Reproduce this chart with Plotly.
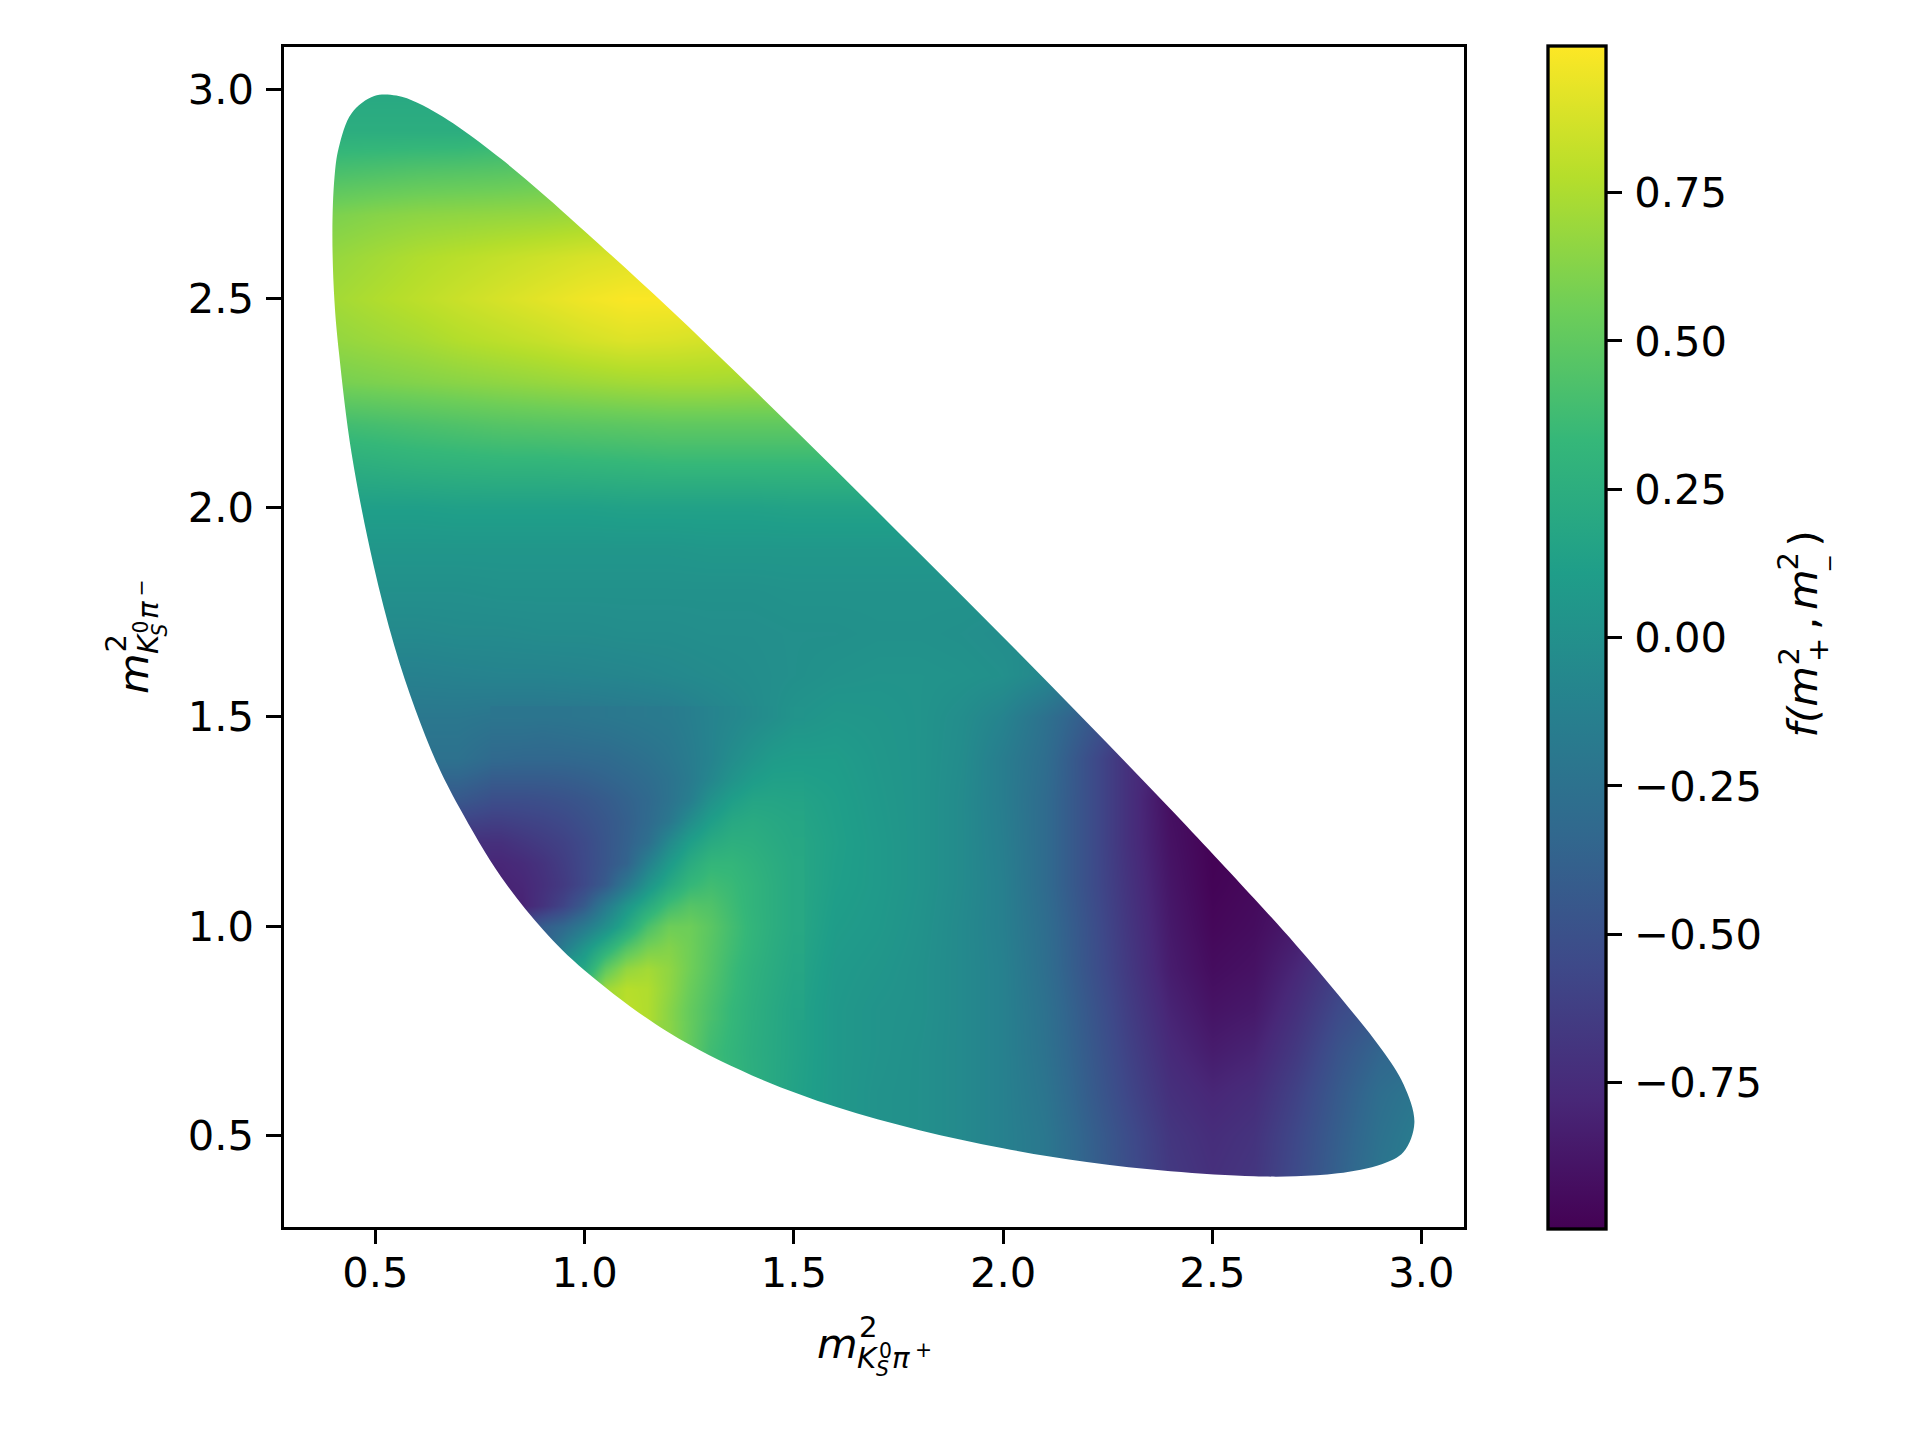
import plotly.graph_objects as go

x_grid = [round(0.4 + 0.1 * i, 1) for i in range(27)]
y_grid = [round(0.4 + 0.1 * i, 1) for i in range(27)]

# values; columns are x_grid, rows are y_grid
z_y04 = [-.8,-.8,-.8,-.8,-.8,-.8,.2,.6,.65,.4,.26,.15,.07,.02,.0,-.05,-.12,-.2,-.36,-.52,-.66,-.72,-.68,-.54,-.38,-.22,-.13]
z_y05 = [-.8,-.8,-.8,-.8,-.8,-.8,.2,.6,.65,.4,.26,.15,.07,.02,.0,-.05,-.12,-.2,-.37,-.53,-.68,-.74,-.7,-.56,-.4,-.25,-.15]
z_y06 = [-.8,-.8,-.8,-.8,-.8,-.8,.2,.6,.65,.4,.26,.15,.07,.02,.0,-.05,-.12,-.22,-.4,-.57,-.72,-.78,-.74,-.6,-.43,-.28,-.2]
z_y07 = [-.8,-.8,-.8,-.8,-.8,-.8,.2,.7,.65,.38,.25,.16,.07,.03,.0,-.05,-.12,-.24,-.42,-.6,-.76,-.84,-.8,-.66,-.48,-.35,-.3]
z_y08 = [-.8,-.8,-.8,-.8,-.8,-.7,.2,.8,.64,.42,.26,.16,.07,.03,.01,-.05,-.12,-.25,-.44,-.63,-.8,-.89,-.86,-.72,-.55,-.45,-.4]
z_y09 = [-.8,-.8,-.8,-.8,-.8,-.4,.2,.67,.66,.46,.28,.18,.08,.05,.01,-.05,-.12,-.27,-.47,-.66,-.84,-.93,-.9,-.78,-.62,-.55,-.5]
z_y10 = [-.8,-.8,-.8,-.8,-.6,-.4,-.17,.2,.55,.48,.31,.2,.1,.07,.02,-.05,-.13,-.28,-.48,-.68,-.86,-.96,-.93,-.85,-.75,-.7,-.7]
z_y11 = [-.8,-.8,-.8,-.8,-.8,-.72,-.55,-.2,.2,.38,.3,.2,.12,.08,.03,-.04,-.13,-.3,-.5,-.7,-.88,-.98,-.95,-.9,-.85,-.8,-.8]
z_y12 = [-.72,-.72,-.72,-.72,-.72,-.64,-.54,-.38,-.05,.22,.25,.19,.13,.08,.03,-.04,-.14,-.3,-.5,-.72,-.9,-.99,-.97,-.95,-.9,-.9,-.9]
z_y13 = [-.45,-.45,-.45,-.45,-.52,-.51,-.46,-.37,-.24,.02,.17,.16,.12,.07,.03,-.04,-.15,-.3,-.5,-.72,-.92,-.98,-.98,-.98,-.98,-.98,-.98]
z_y14 = [-.25,-.25,-.25,-.25,-.32,-.33,-.32,-.28,-.21,-.1,.04,.1,.1,.06,.03,-.03,-.15,-.28,-.5,-.72,-.85,-.9,-.9,-.9,-.9,-.9,-.9]
z_y15 = [-.2,-.2,-.2,-.2,-.22,-.22,-.21,-.19,-.17,-.1,-.04,.03,.06,.05,.03,-.02,-.1,-.25,-.42,-.6,-.7,-.7,-.7,-.7,-.7,-.7,-.7]
z_y16 = [-.12,-.12,-.12,-.11,-.1,-.1,-.09,-.08,-.06,-.04,-.02,.0,.02,.03,.03,.02,.0,-.07,-.2,-.3,-.3,-.3,-.3,-.3,-.3,-.3,-.3]
z_y17 = [-.05,-.05,-.05,-.04,-.04,-.03,-.03,-.02,-.02,-.01,-.01,.0,.0,.01,.01,.0,-.02,-.03,-.03,-.03,-.03,-.03,-.03,-.03,-.03,-.03,-.03]
z_y18 = [.0,.0,.0,.0,.01,.01,.01,.01,.01,.01,.01,.02,.02,.02,.02,.02,.02,.02,.02,.02,.02,.02,.02,.02,.02,.02,.02]
z_y19 = [.05,.05,.05,.05,.05,.05,.05,.05,.05,.06,.06,.06,.06,.06,.06,.06,.06,.06,.06,.06,.06,.06,.06,.06,.06,.06,.06]
z_y20 = [.12,.12,.12,.13,.13,.13,.13,.14,.14,.14,.14,.15,.15,.15,.15,.15,.15,.15,.15,.15,.15,.15,.15,.15,.15,.15,.15]
z_y21 = [.24,.26,.28,.29,.3,.3,.31,.32,.33,.33,.33,.33,.33,.33,.33,.33,.33,.33,.33,.33,.33,.33,.33,.33,.33,.33,.33]
z_y22 = [.38,.4,.42,.44,.46,.47,.48,.49,.5,.5,.5,.5,.5,.5,.5,.5,.5,.5,.5,.5,.5,.5,.5,.5,.5,.5,.5]
z_y23 = [.58,.6,.62,.64,.66,.68,.7,.72,.73,.73,.72,.72,.72,.72,.72,.72,.72,.72,.72,.72,.72,.72,.72,.72,.72,.72,.72]
z_y24 = [.67,.7,.73,.77,.8,.83,.87,.9,.89,.87,.87,.87,.87,.87,.87,.87,.87,.87,.87,.87,.87,.87,.87,.87,.87,.87,.87]
z_y25 = [.72,.76,.8,.84,.88,.92,.96,.99,.99,.99,.99,.99,.99,.99,.99,.99,.99,.99,.99,.99,.99,.99,.99,.99,.99,.99,.99]
z_y26 = [.68,.72,.76,.79,.82,.85,.88,.9,.9,.9,.9,.9,.9,.9,.9,.9,.9,.9,.9,.9,.9,.9,.9,.9,.9,.9,.9]
z_y27 = [.6,.63,.65,.66,.67,.68,.7,.7,.7,.7,.7,.7,.7,.7,.7,.7,.7,.7,.7,.7,.7,.7,.7,.7,.7,.7,.7]
z_y28 = [.42,.44,.46,.47,.48,.5,.5,.5,.5,.5,.5,.5,.5,.5,.5,.5,.5,.5,.5,.5,.5,.5,.5,.5,.5,.5,.5]
z_y29 = [.25,.25,.25,.25,.28,.3,.3,.3,.3,.3,.3,.3,.3,.3,.3,.3,.3,.3,.3,.3,.3,.3,.3,.3,.3,.3,.3]
z_y30 = [.2,.2,.2,.2,.22,.28,.3,.3,.3,.3,.3,.3,.3,.3,.3,.3,.3,.3,.3,.3,.3,.3,.3,.3,.3,.3,.3]
z_rows = [z_y04,z_y05,z_y06,z_y07,z_y08,z_y09,z_y10,z_y11,z_y12,z_y13,z_y14,z_y15,z_y16,z_y17,
          z_y18,z_y19,z_y20,z_y21,z_y22,z_y23,z_y24,z_y25,z_y26,z_y27,z_y28,z_y29,z_y30]

# finer reading around the diagonal band
fine_x = [.8,.85,.9,.95,1.0,1.05,1.1,1.15,1.2,1.25,1.3,1.35,1.4,1.45,1.5]
fine_y = [.8,.85,.9,.95,1.0,1.05,1.1,1.15,1.2,1.25,1.3,1.35,1.4,1.45,1.5]
f_y080 = [.7,.7,.7,.7,.7,.7,.8,.76,.64,.52,.42,.33,.26,.21,.16]
f_y085 = [.4,.4,.4,.4,.4,.7,.78,.76,.66,.54,.44,.35,.27,.22,.17]
f_y090 = [.1,.1,.1,.1,.2,.5,.67,.72,.66,.56,.46,.36,.28,.23,.18]
f_y095 = [-.5,-.5,-.4,-.15,.05,.25,.45,.58,.62,.56,.47,.38,.3,.24,.19]
f_y100 = [-.6,-.5,-.4,-.32,-.17,.0,.2,.42,.55,.55,.48,.39,.31,.25,.2]
f_y105 = [-.8,-.8,-.7,-.58,-.42,-.17,.05,.22,.38,.46,.44,.37,.3,.25,.2]
f_y110 = [-.8,-.78,-.72,-.65,-.55,-.42,-.2,.03,.2,.33,.38,.35,.3,.25,.2]
f_y115 = [-.78,-.75,-.7,-.63,-.55,-.46,-.36,-.12,.08,.23,.32,.32,.28,.24,.2]
f_y120 = [-.72,-.68,-.64,-.6,-.54,-.46,-.38,-.27,-.05,.12,.22,.26,.25,.22,.19]
f_y125 = [-.62,-.6,-.58,-.55,-.5,-.45,-.39,-.31,-.2,-.02,.12,.2,.22,.2,.18]
f_y130 = [-.52,-.52,-.51,-.49,-.46,-.42,-.37,-.32,-.24,-.14,.02,.12,.17,.17,.16]
f_y135 = [-.42,-.42,-.42,-.41,-.39,-.36,-.33,-.29,-.24,-.17,-.07,.03,.1,.13,.13]
f_y140 = [-.32,-.33,-.33,-.33,-.32,-.31,-.28,-.25,-.21,-.16,-.1,-.02,.04,.09,.1]
f_y145 = [-.27,-.27,-.28,-.27,-.26,-.25,-.23,-.21,-.19,-.15,-.1,-.05,.0,.04,.07]
f_y150 = [-.22,-.22,-.22,-.22,-.21,-.2,-.19,-.18,-.17,-.14,-.1,-.07,-.04,-.01,.03]
f_rows = [f_y080,f_y085,f_y090,f_y095,f_y100,f_y105,f_y110,f_y115,f_y120,f_y125,f_y130,f_y135,f_y140,f_y145,f_y150]

# outline of the filled region
upper_x = [.397,.402,.412,.443,.497,.55,.6,.65,.7,.8,.9,1.0,1.2,1.4,1.6,1.8,2.0,2.2,2.4,2.6,2.7,2.8,2.905,2.957,2.983]
upper_y = [2.655,2.79,2.86,2.943,2.984,2.985,2.968,2.941,2.909,2.834,2.75,2.661,2.478,2.286,2.09,1.891,1.691,1.487,1.28,1.066,.955,.837,.705,.622,.53]
lower_x = [2.957,2.905,2.8,2.7,2.6,2.4,2.2,2.0,1.8,1.6,1.4,1.2,1.0,.9,.8,.7,.645,.595,.545,.495,.443,.413,.402]
lower_y = [.46,.431,.409,.402,.402,.414,.436,.469,.512,.568,.643,.746,.894,.992,1.118,1.284,1.393,1.518,1.67,1.864,2.129,2.368,2.493]

x_ticks = [.5, 1.0, 1.5, 2.0, 2.5, 3.0]
y_ticks = [.5, 1.0, 1.5, 2.0, 2.5, 3.0]
cb_ticks = [-.75, -.5, -.25, 0, .25, .5, .75]
cb_labels = ["−0.75", "−0.50", "−0.25", "0.00", "0.25", "0.50", "0.75"]

W, H = 1920, 1440
L, R, T, B = 284.2, 1463.5, 47.3, 1226.7
x_range = [.2818, 3.1004]
y_range = [.2815, 3.1004]
FS = 41.67
LW = 3.33
TL = 14.6
FONT = "DejaVu Sans"
ZMIN, ZMAX = -.996, .998

fig = go.Figure()
fig.add_trace(go.Heatmap(
    x=x_grid, y=y_grid, z=z_rows, zsmooth="best", colorscale="Viridis", zmin=ZMIN, zmax=ZMAX,
    hoverinfo="skip",
    colorbar=dict(
        x=1548 / W, xanchor="left", xpad=0, ypad=0, y=1 - 1228.5 / H, yanchor="bottom",
        thickness=58, thicknessmode="pixels", len=1183, lenmode="pixels",
        outlinewidth=LW, outlinecolor="black",
        tickmode="array", tickvals=cb_ticks, ticktext=["\u200a" + t for t in cb_labels],
        ticks="outside", ticklen=TL, tickwidth=LW, tickcolor="black",
        tickfont=dict(family=FONT, size=FS, color="black"),
    ),
))
fig.add_trace(go.Heatmap(
    x=fine_x, y=fine_y, z=f_rows, zsmooth="best", colorscale="Viridis", zmin=ZMIN, zmax=ZMAX,
    hoverinfo="skip", showscale=False,
))

OUT_LO, OUT_HI = -4.0, 7.0
mask_x = [OUT_LO, OUT_HI, OUT_HI, OUT_LO, OUT_LO, None] + upper_x + lower_x + [upper_x[0]]
mask_y = [OUT_LO, OUT_LO, OUT_HI, OUT_HI, OUT_LO, None] + upper_y + lower_y + [upper_y[0]]
fig.add_trace(go.Scatter(x=mask_x, y=mask_y, mode="lines", fill="toself", fillcolor="white",
                         line=dict(width=0, shape="spline", smoothing=1, simplify=False),
                         connectgaps=False, hoverinfo="skip", showlegend=False))

axis = dict(showgrid=False, zeroline=False, showline=True, linecolor="black", linewidth=LW, mirror=True,
            ticks="outside", ticklen=TL, tickwidth=LW, tickcolor="black", tickmode="array",
            tickfont=dict(family=FONT, size=FS, color="black"))
fig.update_layout(
    width=W, height=H, margin=dict(l=0, r=0, t=0, b=0), paper_bgcolor="white", plot_bgcolor="white",
    showlegend=False,
    xaxis=dict(axis, domain=[L / W, R / W], range=x_range, tickvals=x_ticks,
               ticktext=[f"{v:.1f}" for v in x_ticks], ticklabelstandoff=-7),
    yaxis=dict(axis, domain=[1 - B / H, 1 - T / H], range=y_range, tickvals=y_ticks,
               ticktext=[f"{v:.1f}" for v in y_ticks], ticklabelstandoff=4),
)

def chunk(text, px, base, size, italic=True):
    """horizontal text: left edge px, baseline y base"""
    t = f"<i>{text}</i>" if italic else text
    fig.add_annotation(text=t, xref="paper", yref="paper", x=px / W, y=1 - (base - .346 * size) / H,
                       xanchor="left", yanchor="middle", showarrow=False, borderpad=0, borderwidth=0,
                       font=dict(family=FONT, size=size, color="black"))

def vchunk(text, base, py, size, italic=True):
    """rotated text: baseline x base, start (bottom edge) y py"""
    t = f"<i>{text}</i>" if italic else text
    fig.add_annotation(text=t, xref="paper", yref="paper", x=(base - .346 * size) / W, y=1 - py / H,
                       xanchor="center", yanchor="bottom", textangle=-90, showarrow=False, borderpad=0, borderwidth=0,
                       font=dict(family=FONT, size=size, color="black"))

S1, S2, S3 = FS, FS * .7, FS * .49
# x title
chunk("m", 817, 1358, S1)
chunk("2", 859, 1337, S2, False)
chunk("K", 857, 1368, S2)
chunk("0", 879, 1358, S3, False)
chunk("S", 876, 1376, S3)
chunk("π", 892, 1368, S2)
chunk("+", 915, 1357, S3, False)
# y title
vchunk("m", 148, 694, S1)
vchunk("2", 127, 652, S2, False)
vchunk("K", 158, 654, S2)
vchunk("0", 148, 633, S3, False)
vchunk("S", 167, 636, S3)
vchunk("π", 158, 619, S2)
vchunk("−", 148, 596, S3, False)
# colour bar title
vchunk("f(m", 1817, 738, S1)
vchunk("2", 1799, 665, S2, False)
vchunk("+", 1828, 662, S2, False)
vchunk(",", 1817, 630, S1, False)
vchunk("m", 1817, 610, S1)
vchunk("2", 1799, 570, S2, False)
vchunk("−", 1838, 572, 22, False)
vchunk(")", 1817, 547, S1, False)

fig.write_html("out.html", post_script="document.body.style.margin='0';", config={"displayModeBar": False})
